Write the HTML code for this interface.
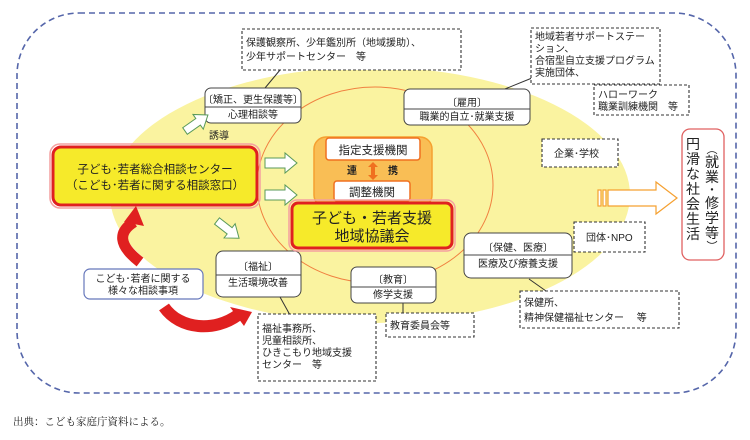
<!DOCTYPE html>
<html><head><meta charset="utf-8"><style>
body{margin:0;background:#fff;width:750px;height:440px;overflow:hidden}
svg{display:block}
text{font-family:"Liberation Sans","Noto Sans CJK JP",sans-serif;fill:#222}
</style></head><body>
<svg width="750" height="440" viewBox="0 0 750 440" xmlns="http://www.w3.org/2000/svg">
<rect x="17" y="13" width="719" height="380" rx="62" fill="none" stroke="#5566aa" stroke-width="1.6" stroke-dasharray="6,4"/>
<ellipse cx="370" cy="195" rx="260" ry="128" fill="#faf3a0"/>
<ellipse cx="375" cy="185" rx="118" ry="98" fill="none" stroke="#f08040" stroke-width="1"/>

<!-- connectors -->
<g stroke="#333" stroke-width="1">
<line x1="265" y1="88" x2="280" y2="70"/>
<line x1="500" y1="91" x2="532" y2="78"/>
<line x1="529" y1="279" x2="546" y2="291"/>
<line x1="403" y1="303" x2="403" y2="314"/>
<line x1="280" y1="297" x2="290" y2="315"/>
</g>

<!-- dashed info boxes -->
<g fill="#fff" stroke="#333" stroke-width="1.1" stroke-dasharray="3,2">
<rect x="242" y="29" width="219" height="41"/>
<rect x="531" y="28" width="129" height="56"/>
<rect x="594" y="85" width="95" height="30"/>
<rect x="542" y="139" width="76" height="28"/>
<rect x="574" y="222" width="71" height="30"/>
<rect x="520" y="291" width="159" height="37"/>
<rect x="386" y="313" width="88" height="24"/>
<rect x="258" y="314" width="118" height="67"/>
</g>
<g font-size="10">
<text x="246" y="46">保護観察所、少年鑑別所（地域援助）、</text>
<text x="246" y="60">少年サポートセンター　等</text>
<text x="535" y="40">地域若者サポートステー</text>
<text x="535" y="52">ション、</text>
<text x="535" y="64">合宿型自立支援プログラム</text>
<text x="535" y="76">実施団体、</text>
<text x="598" y="98">ハローワーク</text>
<text x="598" y="110">職業訓練機関　等</text>
<text x="554" y="157">企業･学校</text>
<text x="586" y="241">団体･NPO</text>
<text x="524" y="306">保健所、</text>
<text x="524" y="321">精神保健福祉センター　 等</text>
<text x="390" y="329">教育委員会等</text>
<text x="262" y="332">福祉事務所、</text>
<text x="262" y="344">児童相談所、</text>
<text x="262" y="356">ひきこもり地域支援</text>
<text x="262" y="368">センター　等</text>
</g>

<!-- category boxes -->
<g fill="#fff" stroke="#444" stroke-width="1">
<rect x="205" y="88" width="96" height="35" rx="6"/>
<rect x="404" y="89" width="126" height="36" rx="6"/>
<rect x="464" y="233" width="108" height="45" rx="7"/>
<rect x="351" y="267" width="85" height="36" rx="6"/>
<rect x="216" y="251" width="85" height="46" rx="7"/>
</g>
<g stroke="#444" stroke-width="1">
<line x1="205" y1="107" x2="301" y2="107"/>
<line x1="404" y1="109" x2="530" y2="109"/>
<line x1="464" y1="255" x2="572" y2="255"/>
<line x1="351" y1="287" x2="436" y2="287"/>
<line x1="216" y1="275" x2="301" y2="275"/>
</g>
<g font-size="10" text-anchor="middle">
<text x="253" y="103">〔矯正、更生保護等〕</text>
<text x="253" y="118">心理相談等</text>
<text x="467" y="106">〔雇用〕</text>
<text x="467" y="120">職業的自立･就業支援</text>
<text x="518" y="251">〔保健、医療〕</text>
<text x="518" y="267">医療及び療養支援</text>
<text x="393" y="283">〔教育〕</text>
<text x="393" y="298">修学支援</text>
<text x="258" y="270">〔福祉〕</text>
<text x="258" y="286">生活環境改善</text>
</g>
<text x="209" y="139" font-size="10">誘導</text>

<!-- main center box -->
<rect x="53" y="147" width="204" height="58" rx="8" fill="#f6ea2a" stroke="#e02020" stroke-width="3"/>
<rect x="50" y="144" width="210" height="64" rx="10" fill="none" stroke="#f4a0a0" stroke-width="1.5"/>
<text x="155" y="173" font-size="11.5" text-anchor="middle">子ども･若者総合相談センター</text>
<text x="155" y="189" font-size="11.5" text-anchor="middle">（こども･若者に関する相談窓口）</text>

<!-- orange group -->
<rect x="314" y="137" width="118" height="70" rx="12" fill="#f9be55" stroke="#f5a030" stroke-width="1.5"/>
<rect x="326" y="138" width="94" height="22" rx="3" fill="#fff" stroke="#f07020" stroke-width="1.5"/>
<text x="373" y="154" font-size="11.5" text-anchor="middle">指定支援機関</text>
<text x="347" y="174" font-size="10" font-weight="bold">連</text>
<text x="388" y="174" font-size="10" font-weight="bold">携</text>
<path d="M373 162 L368 167 L371 167 L371 175 L368 175 L373 180 L378 175 L375 175 L375 167 L378 167 Z" fill="#f07020"/>
<rect x="334" y="181" width="76" height="20" rx="3" fill="#fff" stroke="#f07020" stroke-width="1.5"/>
<text x="372" y="196" font-size="11.5" text-anchor="middle">調整機関</text>
<rect x="292" y="203" width="160" height="45" rx="6" fill="#f6ea2a" stroke="#e02020" stroke-width="3"/>
<rect x="289" y="200" width="166" height="51" rx="8" fill="none" stroke="#f4a0a0" stroke-width="1.5"/>
<text x="372" y="223" font-size="15" text-anchor="middle">子ども・若者支援</text>
<text x="372" y="241" font-size="15" text-anchor="middle">地域協議会</text>

<!-- green hollow arrows -->
<g fill="#fff" stroke="#5a9a5a" stroke-width="1">
<path d="M265 158 H285 V153 L297 163 L285 173 V168 H265 Z"/>
<path d="M265 190 H285 V185 L297 195 L285 205 V200 H265 Z"/>
<path d="M0 -4 H16 V-9 L28 0 L16 9 V4 H0 Z" transform="translate(185,131) rotate(-35)"/>
<path d="M0 -4 H16 V-9 L28 0 L16 9 V4 H0 Z" transform="translate(217,221) rotate(38)"/>
</g>

<!-- big orange arrow -->
<g fill="#fff" stroke="#f5a030" stroke-width="1.2">
<rect x="598" y="190" width="3" height="16"/>
<rect x="603" y="190" width="3" height="16"/>
<path d="M608 190 H656 V182 L677 198 L656 214 V206 H608 Z"/>
</g>

<!-- vertical outcome box -->
<rect x="682" y="129" width="42" height="131" rx="8" fill="#fff" stroke="#e06060" stroke-width="1.3"/>
<text font-size="14" text-anchor="middle">
<tspan x="693" y="149">円</tspan><tspan x="693" y="164">滑</tspan><tspan x="693" y="179">な</tspan><tspan x="693" y="194">社</tspan><tspan x="693" y="209">会</tspan><tspan x="693" y="224">生</tspan><tspan x="693" y="239">活</tspan>
</text>
<text font-size="14" text-anchor="middle">
<tspan x="712" y="153" font-size="11">︵</tspan><tspan x="712" y="167">就</tspan><tspan x="712" y="182">業</tspan><tspan x="712" y="195">･</tspan><tspan x="712" y="208">修</tspan><tspan x="712" y="223">学</tspan><tspan x="712" y="238">等</tspan><tspan x="712" y="250" font-size="11">︶</tspan>
</text>

<!-- red curved arrows -->
<path d="M140 262 C118 245 118 232 134 222" fill="none" stroke="#e02020" stroke-width="11"/>
<path d="M124 222 L136 206 L144 226 Z" fill="#e02020"/>
<path d="M164 307 C180 330 215 332 238 315" fill="none" stroke="#e02020" stroke-width="12"/>
<path d="M230 307 L252 312 L244 326 Z" fill="#e02020"/>

<!-- consultation box -->
<rect x="84" y="269" width="119" height="30" rx="6" fill="#fff" stroke="#6677bb" stroke-width="1.2"/>
<text x="143" y="282" font-size="10" text-anchor="middle">こども･若者に関する</text>
<text x="143" y="294" font-size="10" text-anchor="middle">様々な相談事項</text>

<text x="13" y="425" font-size="10.5" style="font-family:'Liberation Serif','Noto Serif CJK SC',serif">出典：こども家庭庁資料による。</text>
</svg>
</body></html>
